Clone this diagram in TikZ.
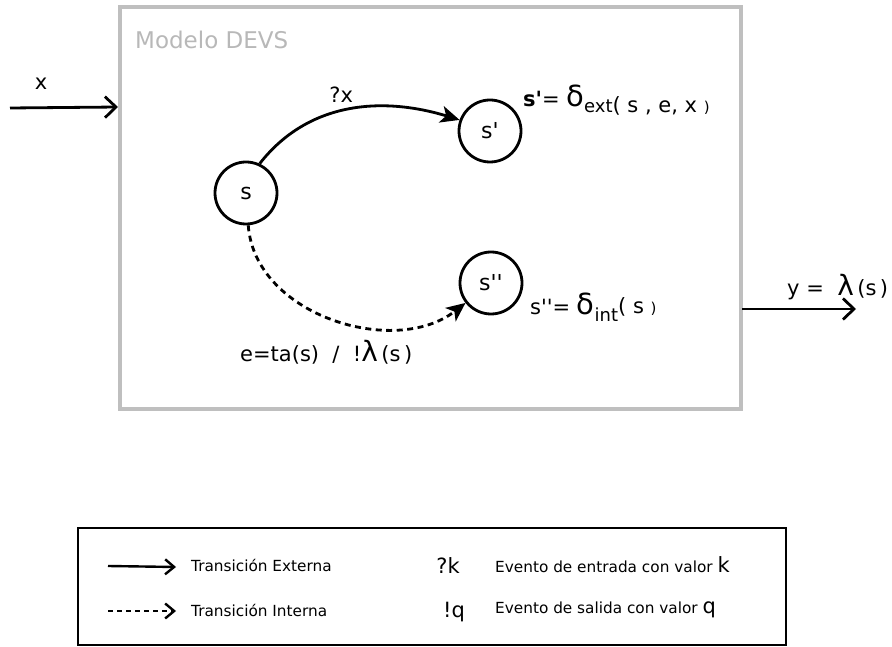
\documentclass[tikz,border=0pt]{standalone}
\usepackage{fontspec}
\setmainfont{DejaVu Sans}
\usetikzlibrary{arrows.meta}

\newcommand{\apos}{\textquotesingle}

\tikzset{
  estado/.style={draw, circle, line width=2.8pt, minimum size=62pt, inner sep=0pt, font=\fontsize{22}{24}\selectfont},
  externa/.style={line width=2.8pt, -{Stealth[length=19pt,width=17pt,inset=5pt]}},
  interna/.style={line width=2.8pt, dash pattern=on 6pt off 4.5pt, -{Stealth[length=19pt,width=17pt,inset=5pt]}},
  puerto/.style={line width=2.8pt, -{Straight Barb[length=11pt,width=21pt,line width=2.8pt]}},
  muestra/.style={line width=2.4pt, -{Straight Barb[length=9pt,width=15pt,line width=2.4pt]}},
  etiqueta/.style={font=\fontsize{21}{24}\selectfont, inner sep=0pt},
  leyenda/.style={font=\fontsize{15.3}{18}\selectfont, inner sep=0pt, anchor=west}
}

\begin{document}
\begin{tikzpicture}[x=1pt,y=1pt]
    \useasboundingbox (0,0) rectangle (892,646);

    % DEVS model box
    \draw[color=black!25, line width=3.2pt] (120,639) rectangle (741,237);
    \node[anchor=west, inner sep=0pt, text=black!28, font=\fontsize{23}{26}\selectfont] (titulo) at (135,606) {Modelo DEVS};

    % States
    \node[estado] (s) at (246,453) {s};
    \node[estado] (s1) at (490,515) {s\apos};
    \node[estado] (s2) at (491,363) {s\apos\apos};

    % Ports
    \coordinate (xin) at (10,538);
    \coordinate (xbox) at (118,539);
    \coordinate (ybox) at (742,337);
    \coordinate (yout) at (856,337);
    \draw[puerto] (xin) -- (xbox);
    \draw[puerto] (ybox) -- (yout);
    \node[etiqueta] (xlab) at (41,562) {x};
    \node[etiqueta, anchor=west] (ylab) at (787,359) {y =\ \ {\fontsize{28}{30}\selectfont λ}\,(s\,)};

    % Transitions
    \draw[externa] (s.65) to[out=52, in=163] node[pos=0.46, above=7pt, etiqueta] (qx) {?x} (s1.160);
    \draw[interna] (s) to[out=-86, in=218] (s2);

    % Functions
    \node[etiqueta, anchor=west] (fext) at (523,546) {\textbf{s\apos}= {\fontsize{29}{30}\selectfont δ}\raisebox{-6pt}{{\fontsize{18}{20}\selectfont ext}( s , e, x {\fontsize{15}{16}\selectfont)}}};
    \node[etiqueta, anchor=west] (fint) at (530,339) {s\apos\apos= {\fontsize{29}{30}\selectfont δ}\raisebox{-7pt}{\fontsize{18}{20}\selectfont int}\raisebox{1pt}{( s {\fontsize{15}{16}\selectfont)}}};
    \node[etiqueta, anchor=west] (lambda) at (240,294) {e=ta(s)\ \ /\ \ !{\fontsize{28}{30}\selectfont λ}\,(s\,)};

    % Legend
    \draw[line width=2.6pt] (78,1) rectangle (786,118);
    \coordinate (la) at (108,80);
    \coordinate (lb) at (176,79);
    \coordinate (lc) at (108,35);
    \coordinate (ld) at (176,35);
    \draw[muestra] (la) -- (lb);
    \draw[muestra, dash pattern=on 5pt off 4pt] (lc) -- (ld);
    \node[leyenda] (lext) at (191,81) {Transición Externa};
    \node[leyenda] (lint) at (191,36) {Transición Interna};
    \node[etiqueta] (qk) at (448,80) {?k};
    \node[etiqueta] (eq) at (454,34) {!q};
    \node[leyenda] (lent) at (495,81) {Evento de entrada con valor {\fontsize{21}{22}\selectfont k}};
    \node[leyenda] (lsal) at (495,36) {Evento de salida con valor\ {\fontsize{21}{22}\selectfont q}};
\end{tikzpicture}
\end{document}
